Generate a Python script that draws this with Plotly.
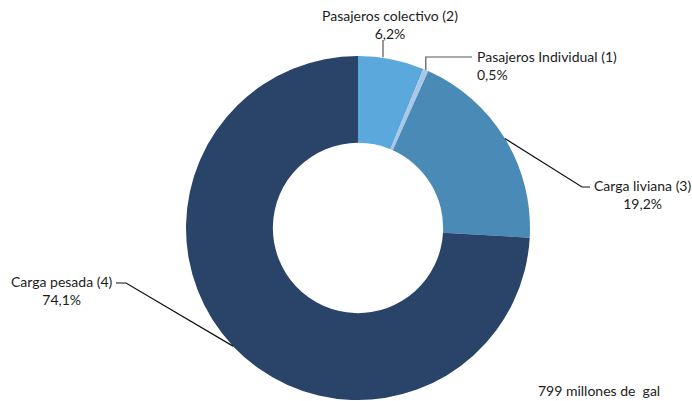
import math
import plotly.graph_objects as go

categories = ["Pasajeros colectivo (2)", "Pasajeros Individual (1)", "Carga liviana (3)", "Carga pesada (4)"]
values = [6.2, 0.5, 19.2, 74.1]
pct_labels = ["6,2%", "0,5%", "19,2%", "74,1%"]
colors = ["#5BA8DC", "#A9C7E6", "#4A8AB6", "#294468"]
note = "799 millones de  gal"

W, H = 692, 401
CX, CY, R = 358, 228, 172  # pixel geometry of the donut

fig = go.Figure(go.Pie(
    labels=categories, values=values, hole=0.495, sort=False,
    direction="clockwise", rotation=0, textinfo="none", hoverinfo="label+percent",
    marker=dict(colors=colors, line=dict(width=0)),
    domain=dict(x=[(CX - R) / W, (CX + R) / W], y=[(H - CY - R) / H, (H - CY + R) / H]),
    showlegend=False,
))

def px(x, y):
    return x / W, 1 - y / H

total = sum(values)
cum = 0
anchors = []
for v in values:
    mid = (cum + v / 2) / total * 2 * math.pi
    anchors.append((CX + R * math.sin(mid), CY - R * math.cos(mid)))
    cum += v

label_specs = [
    dict(path=[(383, 40)], text_xy=(390, 24), xanchor="center", align="center", color="#555"),
    dict(path=[(None, 57), (472, 57)], text_xy=(475, 66), xanchor="left", align="left", color="#555"),
    dict(path=[(582, 187), (590, 187)], text_xy=(592, 194), xanchor="left", align="center", color="#111"),
    dict(path=[(126, 283), (116, 283)], text_xy=(115, 290), xanchor="right", align="center", color="#111"),
]

font = dict(family="Lato, Roboto, sans-serif", size=14, color="#1c1c1c")
shapes = []
annotations = []
for i, spec in enumerate(label_specs):
    ax, ay = anchors[i]
    pts = [(ax, ay)]
    if i == 0:
        ay = ay - 2
        pts = [(spec["path"][0][0], ay), spec["path"][0]]
    else:
        for p in spec["path"]:
            x = p[0] if p[0] is not None else ax
            pts.append((x, p[1]))
    d = "M " + " L ".join(f"{px(x, y)[0]:.5f},{px(x, y)[1]:.5f}" for x, y in pts)
    shapes.append(dict(type="path", path=d, xref="paper", yref="paper",
                       line=dict(color=spec["color"], width=1.2)))
    tx, ty = px(*spec["text_xy"])
    annotations.append(dict(x=tx, y=ty, xref="paper", yref="paper", showarrow=False,
                            text=f"{categories[i]}<br>{pct_labels[i]}",
                            xanchor=spec["xanchor"], yanchor="middle", align=spec["align"],
                            font=font))

nx, ny = px(599, 390)
annotations.append(dict(x=nx, y=ny, xref="paper", yref="paper", showarrow=False, text=note,
                        xanchor="center", yanchor="middle", font=font))

fig.update_layout(width=W, height=H, margin=dict(l=0, r=0, t=0, b=0),
                  paper_bgcolor="white", plot_bgcolor="white",
                  shapes=shapes, annotations=annotations)

fig.write_html("out.html", config={"displayModeBar": False},
               post_script="document.body.style.margin='0';document.body.style.padding='0';")
